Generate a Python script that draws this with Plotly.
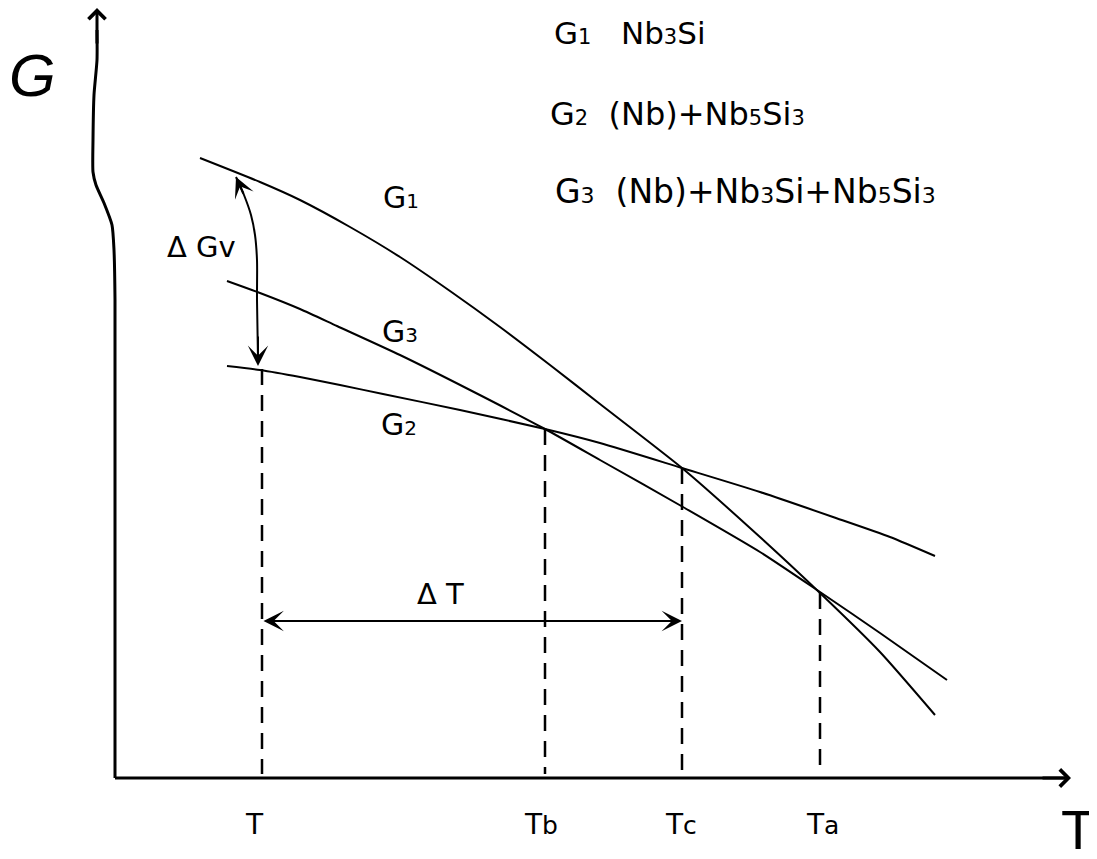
import plotly.graph_objects as go

# ---- schematic data (T increases to the right, G drawn top-down as in the sketch) ----
g1_T = [200, 260, 300, 350, 400, 450, 500, 550, 600, 682, 750, 820, 880, 935]
g1_G = [158, 182, 200, 227, 257, 291, 327, 365, 404, 468, 528, 593, 652, 715]

g2_T = [227, 260, 300, 340, 383, 460, 545, 600, 682, 760, 833, 890, 935]
g2_G = [366, 370, 377, 385, 394, 410, 429, 443, 468, 492, 517, 537, 556]

g3_T = [227, 260, 300, 337, 400, 470, 545, 600, 683, 760, 820, 880, 947]
g3_G = [281, 293, 309, 326, 355, 390, 429, 460, 507, 552, 592, 633, 680]

# characteristic temperatures and where their dashed guides start
tick_T = [262, 545, 682, 820]
tick_G_top = [369, 429, 468, 593]
tick_label_T = [254, 541, 681, 822]
tick_labels = ["T", "T<span style='font-size:25px'>b</span>",
               "T<span style='font-size:25px'>c</span>",
               "T<span style='font-size:25px'>a</span>"]

# axes geometry
origin_T, origin_G = 115, 778
xaxis_end_T = 1071
yaxis_T = [115, 115, 114, 112, 104, 96, 93, 93, 94, 97, 97]
yaxis_G = [778, 300, 250, 225, 203, 185, 172, 140, 95, 60, 30]

# delta G_v curved arrow path
dgv_T = [236, 244, 251, 255, 257, 257, 258]
dgv_G = [177, 195, 215, 235, 260, 300, 360]

# delta T arrow
dT_left, dT_right, dT_G = 262, 682, 621

NB = "&nbsp;"
def sub(s, px):
    return "<span style='font-size:%dpx'>%s</span>" % (px, s)

legend_lines = [
    ("G" + sub("1", 21) + NB * 3 + "Nb" + sub("3", 21) + "Si", 552, 33, 31),
    ("G" + sub("2", 21) + NB * 2 + "(Nb)+Nb" + sub("5", 21) + "Si" + sub("3", 21), 548, 114, 32),
    ("G" + sub("3", 22) + NB * 2 + "(Nb)+Nb" + sub("3", 22) + "Si+Nb" + sub("5", 22) + "Si" + sub("3", 22), 553, 191, 33),
]

curve_labels = [
    ("G" + sub("1", 20), 401, 197),
    ("G" + sub("3", 20), 400, 331),
    ("G" + sub("2", 20), 399, 424),
]

FONT = "DejaVu Sans, Verdana, sans-serif"
ARIAL = "Liberation Sans, Arial, Helvetica, sans-serif"
BLACK = "#000000"

fig = go.Figure()

for T, G in [(g1_T, g1_G), (g2_T, g2_G), (g3_T, g3_G)]:
    fig.add_trace(go.Scatter(x=T, y=G, mode="lines",
                             line=dict(color=BLACK, width=2, shape="spline", smoothing=0.6),
                             hoverinfo="skip", showlegend=False))

# dashed guides
for t, gtop in zip(tick_T, tick_G_top):
    fig.add_trace(go.Scatter(x=[t, t], y=[gtop, origin_G - 4], mode="lines",
                             line=dict(color=BLACK, width=2.5, dash="16px,10px"),
                             hoverinfo="skip", showlegend=False))

# y axis (wavy hand-drawn line)
fig.add_trace(go.Scatter(x=yaxis_T, y=yaxis_G, mode="lines",
                         line=dict(color=BLACK, width=3, shape="spline", smoothing=0.6),
                         hoverinfo="skip", showlegend=False))

# x axis line
fig.add_trace(go.Scatter(x=[origin_T, xaxis_end_T - 6], y=[origin_G, origin_G], mode="lines",
                         line=dict(color=BLACK, width=3), hoverinfo="skip", showlegend=False))

# delta Gv curve
fig.add_trace(go.Scatter(x=dgv_T, y=dgv_G, mode="lines",
                         line=dict(color=BLACK, width=2, shape="spline", smoothing=0.8),
                         hoverinfo="skip", showlegend=False))

ann = []
# axis arrow heads
ann.append(dict(x=xaxis_end_T, y=origin_G, ax=xaxis_end_T - 30, ay=origin_G, xref="x", yref="y",
                axref="x", ayref="y", showarrow=True, arrowhead=4, arrowsize=1.1, arrowwidth=3,
                arrowcolor=BLACK, text=""))
ann.append(dict(x=97, y=8, ax=97, ay=45, xref="x", yref="y", axref="x", ayref="y",
                showarrow=True, arrowhead=4, arrowsize=1.1, arrowwidth=3, arrowcolor=BLACK, text=""))
# delta Gv arrow heads
ann.append(dict(x=dgv_T[0], y=dgv_G[0], ax=dgv_T[1], ay=dgv_G[1], xref="x", yref="y",
                axref="x", ayref="y", showarrow=True, arrowhead=3, arrowsize=1.7, arrowwidth=2,
                arrowcolor=BLACK, text=""))
ann.append(dict(x=258, y=366, ax=258, ay=335, xref="x", yref="y", axref="x", ayref="y",
                showarrow=True, arrowhead=3, arrowsize=1.7, arrowwidth=2, arrowcolor=BLACK, text=""))
# delta T double arrow
ann.append(dict(x=dT_right, y=dT_G, ax=dT_left, ay=dT_G, xref="x", yref="y", axref="x", ayref="y",
                showarrow=True, arrowhead=3, startarrowhead=3, arrowside="end+start",
                arrowsize=1.7, startarrowsize=1.7, arrowwidth=2, arrowcolor=BLACK, text=""))

# texts
def txt(s, x, y, size, family=FONT, xanchor="center"):
    return dict(text=s, x=x, y=y, xref="x", yref="y", showarrow=False, xanchor=xanchor,
                yanchor="middle", font=dict(family=family, size=size, color=BLACK))

ann.append(txt("<i>G</i>", 32, 75, 60, family=ARIAL))
ann.append(txt("T", 1078, 829, 56, family=ARIAL))
for s, x, y, size in legend_lines:
    ann.append(txt(s, x, y, size, xanchor="left"))
for s, x, y in curve_labels:
    ann.append(txt(s, x, y, 30))
ann.append(txt("Δ Gv", 201, 247, 29))
ann.append(txt("Δ T", 440, 594, 29))
for t, lab in zip(tick_label_T, tick_labels):
    ann.append(txt(lab, t, 824, 28))

# the page adds an 8px body margin, so the visible canvas starts at 8
fig.update_layout(
    width=1097, height=859,
    margin=dict(l=0, r=0, t=0, b=0),
    paper_bgcolor="white", plot_bgcolor="white",
    xaxis=dict(range=[8, 1105], visible=False, fixedrange=True),
    yaxis=dict(range=[867, 8], visible=False, fixedrange=True),
    annotations=ann,
    showlegend=False,
)

fig.write_html("out.html")
